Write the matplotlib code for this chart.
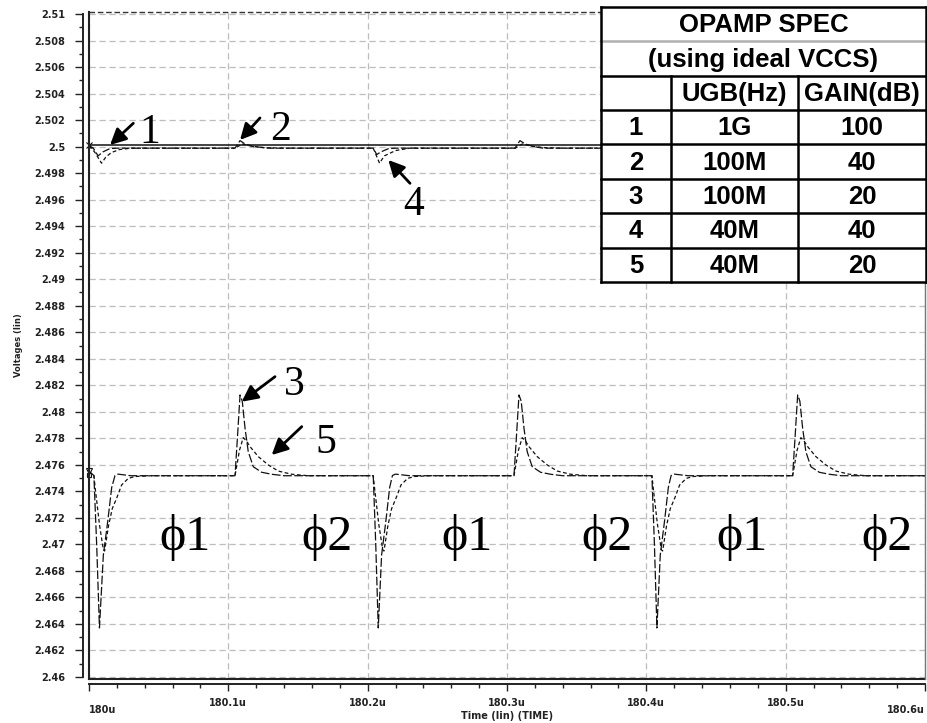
import matplotlib
matplotlib.use("Agg")
import matplotlib.pyplot as plt
from matplotlib.patches import Rectangle
from matplotlib.ticker import MultipleLocator
from matplotlib.transforms import ScaledTranslation

# ---------------- data (time in us, voltage in V) ----------------
# curve 1 : UGB 1G, 100 dB
t_c1 = [180.0, 180.1, 180.2, 180.3, 180.4, 180.5, 180.6]
v_c1 = [2.50012, 2.50012, 2.50012, 2.50012, 2.50012, 2.50012, 2.50012]

# curve 2 : UGB 100M, 40 dB
t_c2 = [180.0, 180.003, 180.0065, 180.010, 180.015, 180.020,
        180.1048, 180.1084, 180.112, 180.118, 180.130,
        180.204, 180.2065, 180.2095, 180.215, 180.220,
        180.3057, 180.3093, 180.313, 180.319, 180.326, 180.6]
v_c2 = [2.50005, 2.4999, 2.4993, 2.4996, 2.49985, 2.49988,
        2.49988, 2.50045, 2.5002, 2.5000, 2.49988,
        2.49988, 2.4994, 2.4996, 2.49985, 2.49988,
        2.49988, 2.50045, 2.5002, 2.5000, 2.49988, 2.49988]

# curve 4 : UGB 40M, 40 dB
t_c4 = [180.0, 180.004, 180.009, 180.012, 180.016, 180.022, 180.030,
        180.1048, 180.110, 180.116, 180.125, 180.140,
        180.204, 180.2085, 180.212, 180.220, 180.230,
        180.306, 180.311, 180.317, 180.326, 180.340, 180.6]
v_c4 = [2.50005, 2.4996, 2.49875, 2.4992, 2.49955, 2.49978, 2.49988,
        2.49988, 2.5002, 2.50005, 2.49992, 2.49988,
        2.49988, 2.49875, 2.4993, 2.4997, 2.49988,
        2.49988, 2.5002, 2.50005, 2.49992, 2.49988, 2.49988]

# curve 3 : UGB 100M, 20 dB
t_c3 = [180.0, 180.0035, 180.0055, 180.0075, 180.0103, 180.0134, 180.0163, 180.0187, 180.0208, 180.030,
        180.1048, 180.1065, 180.1084, 180.1100, 180.1120, 180.1143, 180.1179, 180.1239, 180.1311, 180.140,
        180.2040, 180.2058, 180.2076, 180.2100, 180.2130, 180.2158, 180.2178, 180.2200, 180.230,
        180.3050, 180.3067, 180.3086, 180.3102, 180.3122, 180.3145, 180.3181, 180.3241, 180.3313, 180.340,
        180.4040, 180.4058, 180.4076, 180.4100, 180.4130, 180.4158, 180.4178, 180.4200, 180.430,
        180.5050, 180.5067, 180.5086, 180.5102, 180.5122, 180.5145, 180.5181, 180.5241, 180.5313, 180.540,
        180.6]
v_c3 = [2.4755, 2.4752, 2.4700, 2.4637, 2.4692, 2.4717, 2.4743, 2.4752, 2.4753, 2.47518,
        2.47518, 2.4780, 2.48127, 2.4808, 2.47875, 2.47699, 2.47586, 2.47544, 2.47529, 2.47518,
        2.47518, 2.4700, 2.4637, 2.4692, 2.4717, 2.4743, 2.4752, 2.4753, 2.47518,
        2.47518, 2.4780, 2.48127, 2.4808, 2.47875, 2.47699, 2.47586, 2.47544, 2.47529, 2.47518,
        2.47518, 2.4700, 2.4637, 2.4692, 2.4717, 2.4743, 2.4752, 2.4753, 2.47518,
        2.47518, 2.4780, 2.48127, 2.4808, 2.47875, 2.47699, 2.47586, 2.47544, 2.47529, 2.47518,
        2.47518]

# curve 5 : UGB 40M, 20 dB
t_c5 = [180.0, 180.0035, 180.0045, 180.0075, 180.0103, 180.0112, 180.0140, 180.0167, 180.0199, 180.0234, 180.0282, 180.0330, 180.0450,
        180.1048, 180.1080, 180.1107, 180.1130, 180.1156, 180.1215, 180.1287, 180.1359, 180.1455, 180.1572,
        180.2040, 180.2050, 180.2080, 180.2108, 180.2117, 180.2145, 180.2172, 180.2204, 180.2239, 180.2287, 180.2335, 180.2450,
        180.3050, 180.3082, 180.3109, 180.3132, 180.3158, 180.3217, 180.3289, 180.3361, 180.3457, 180.3574,
        180.4040, 180.4050, 180.4080, 180.4108, 180.4117, 180.4145, 180.4172, 180.4204, 180.4239, 180.4287, 180.4335, 180.4450,
        180.5050, 180.5082, 180.5109, 180.5132, 180.5158, 180.5217, 180.5289, 180.5361, 180.5457, 180.5574,
        180.6]
v_c5 = [2.4755, 2.4752, 2.4742, 2.4715, 2.4696, 2.4695, 2.4714, 2.4727, 2.4735, 2.47448, 2.47498, 2.47512, 2.47518,
        2.47518, 2.4771, 2.47805, 2.4778, 2.47737, 2.47662, 2.47599, 2.47553, 2.47529, 2.47518,
        2.47518, 2.4742, 2.4715, 2.4696, 2.4695, 2.4714, 2.4727, 2.4735, 2.47448, 2.47498, 2.47512, 2.47518,
        2.47518, 2.4771, 2.47805, 2.4778, 2.47737, 2.47662, 2.47599, 2.47553, 2.47529, 2.47518,
        2.47518, 2.4742, 2.4715, 2.4696, 2.4695, 2.4714, 2.4727, 2.4735, 2.47448, 2.47498, 2.47512, 2.47518,
        2.47518, 2.4771, 2.47805, 2.4778, 2.47737, 2.47662, 2.47599, 2.47553, 2.47529, 2.47518,
        2.47518]

# axis ticks
xtick_values = [180.0, 180.1, 180.2, 180.3, 180.4, 180.5, 180.6]
xtick_labels = ["180u", "180.1u", "180.2u", "180.3u", "180.4u", "180.5u", "180.6u"]
ytick_labels = ["2.46", "2.462", "2.464", "2.466", "2.468", "2.47", "2.472", "2.474", "2.476",
                "2.478", "2.48", "2.482", "2.484", "2.486", "2.488", "2.49", "2.492", "2.494",
                "2.496", "2.498", "2.5", "2.502", "2.504", "2.506", "2.508", "2.51"]

# phase labels
phase_labels = ["\u03d51", "\u03d52", "\u03d51", "\u03d52", "\u03d51", "\u03d52"]
phase_t = [180.069, 180.171, 180.271, 180.372, 180.469, 180.573]
phase_v = 2.4696

# curve annotations: label, text position, arrow tail, arrow tip
ann_labels = ["1", "2", "3", "4", "5"]
ann_text_t = [180.0438, 180.1371, 180.1476, 180.2333, 180.1701]
ann_text_v = [2.50027, 2.5005, 2.48127, 2.49484, 2.47689]
ann_tail_t = [180.0318, 180.1227, 180.1335, 180.2304, 180.1527]
ann_tail_v = [2.50176, 2.50216, 2.48265, 2.49723, 2.47888]
ann_tip_t = [180.0151, 180.1084, 180.1096, 180.2148, 180.1311]
ann_tip_v = [2.50012, 2.50050, 2.48076, 2.49899, 2.47674]

# spec table
table_title = "OPAMP SPEC"
table_subtitle = "(using ideal VCCS)"
table_header = ["", "UGB(Hz)", "GAIN(dB)"]
table_ids = ["1", "2", "3", "4", "5"]
table_ugb = ["1G", "100M", "100M", "40M", "40M"]
table_gain = ["100", "40", "20", "40", "20"]

# ---------------- figure ----------------
W, H = 927, 723
fig = plt.figure(figsize=(W / 100, H / 100), dpi=100)
fig.patch.set_facecolor("white")


def px_rect(x0, y0, x1, y1):
    return [x0 / W, 1 - y1 / H, (x1 - x0) / W, (y1 - y0) / H]


SANS = "Liberation Sans"
AXFONT = "DejaVu Sans"
SERIF = ["Liberation Serif", "DejaVu Serif"]

ax = fig.add_axes(px_rect(89, 12, 925, 679))
ax.set_xlim(180.0, 180.6)
ax.set_ylim(2.45985, 2.51015)

ink = "#111111"
ax.plot(t_c1, v_c1, color=ink, lw=1.1, solid_capstyle="butt", zorder=3)
ax.plot(t_c2, v_c2, color=ink, lw=0.9, dashes=(6, 2), zorder=3)
ax.plot(t_c4, v_c4, color=ink, lw=0.9, dashes=(3, 2), zorder=3)
ax.plot(t_c3, v_c3, color=ink, lw=0.9, dashes=(7, 2), zorder=3)
ax.plot(t_c5, v_c5, color=ink, lw=0.9, dashes=(3, 2), zorder=3)

# start markers
ax.plot(t_c3[:1], v_c3[:1], marker="v", ms=5, mfc="none", mec=ink, mew=0.8, ls="none", clip_on=False, zorder=4)
ax.plot(t_c5[:1], [v_c5[0] - 0.0003], marker="s", ms=3.5, mfc="none", mec=ink, mew=0.8, ls="none", clip_on=False, zorder=4)
ax.plot(t_c1[:1], v_c1[:1], marker="x", ms=4, mec=ink, mew=0.8, ls="none", clip_on=False, zorder=4)

# grid
ax.set_xticks(xtick_values, xtick_labels)
ax.set_yticks([float(s) for s in ytick_labels], ytick_labels)
ax.xaxis.set_minor_locator(MultipleLocator(0.02))
ax.yaxis.set_minor_locator(MultipleLocator(0.001))
ax.grid(True, which="major", color="#bdbdbd", lw=0.9, ls=(0, (5, 3)), zorder=1)

# detached axes (spines) + frame
for s in ["top", "right"]:
    ax.spines[s].set_visible(False)
ax.spines["left"].set_position(("outward", 4.3))
ax.spines["bottom"].set_position(("outward", 3.6))
ax.spines["left"].set_bounds(2.46, 2.51)
ax.spines["bottom"].set_bounds(180.0, 180.6)
for s in ["left", "bottom"]:
    ax.spines[s].set_linewidth(1.4)
    ax.spines[s].set_color("#222222")

ax.plot([0, 0], [0, 1], transform=ax.transAxes, color="#222222", lw=1.5, clip_on=False, zorder=5)
ax.plot([0, 1], [0, 0], transform=ax.transAxes, color="#222222", lw=1.5, clip_on=False, zorder=5)
ax.plot([0, 1], [1, 1], transform=ax.transAxes, color="#333333", lw=1.0, dashes=(4, 2), clip_on=False, zorder=5)
ax.plot([1, 1], [0, 1], transform=ax.transAxes, color="#777777", lw=1.0, clip_on=False, zorder=5)

ax.tick_params(axis="y", which="major", direction="out", length=5.8, width=1.0, pad=7, color="#222222")
ax.tick_params(axis="y", which="minor", direction="out", length=2.9, width=1.0, color="#222222")
ax.tick_params(axis="x", which="major", direction="out", length=5.0, width=1.0, pad=5, color="#222222")
ax.tick_params(axis="x", which="minor", direction="out", length=2.9, width=1.0, color="#222222")

for lab in ax.get_yticklabels() + ax.get_xticklabels():
    lab.set_fontfamily(AXFONT)
    lab.set_fontweight("bold")
    lab.set_fontsize(7)
    lab.set_color("#222222")

xl = ax.get_xticklabels()
drop = ScaledTranslation(0, -0.07, fig.dpi_scale_trans)
xl[0].set_ha("left")
xl[0].set_transform(xl[0].get_transform() + drop)
xl[-1].set_ha("right")
xl[-1].set_transform(xl[-1].get_transform() + drop)

ax.set_xlabel("Time (lin) (TIME)", fontfamily=AXFONT, fontweight="bold", fontsize=7, color="#222222")
ax.xaxis.set_label_coords(0.5, -0.0487)
ax.set_ylabel("Voltages (lin)", fontfamily=AXFONT, fontweight="bold", fontsize=6, color="#222222")
ax.yaxis.set_label_coords(-0.079, 0.5)

# phase labels
for lab, t in zip(phase_labels, phase_t):
    ax.text(t, phase_v, lab, fontsize=36, family=SERIF, ha="center", va="baseline", color="black", zorder=6)

# curve annotations
for lab, tx, vx, ta, va_, tp, vp in zip(ann_labels, ann_text_t, ann_text_v, ann_tail_t, ann_tail_v, ann_tip_t, ann_tip_v):
    ax.annotate("", xy=(tp, vp), xytext=(ta, va_),
                arrowprops=dict(arrowstyle="-|>", color="black", lw=2.0, mutation_scale=24,
                                shrinkA=0, shrinkB=0), zorder=6)
    ax.text(tx, vx, lab, fontsize=30, family=SERIF, ha="center", va="baseline", color="black", zorder=6)

# ---------------- spec table ----------------
tax = fig.add_axes(px_rect(601, 7, 926, 282))
tax.set_xlim(0, 325)
tax.set_ylim(8, 0)
tax.axis("off")
tax.add_patch(Rectangle((0, 0), 1, 1, transform=tax.transAxes, facecolor="white", edgecolor="none", zorder=0, clip_on=False))
col_edges = [0, 70, 197, 325]
lw_t = 1.8
for r in range(9):
    c = "#b0b0b0" if r == 1 else "black"
    tax.plot([0, 325], [r, r], color=c, lw=lw_t, clip_on=False, solid_capstyle="projecting")
tax.plot([0, 0], [0, 8], color="black", lw=lw_t, clip_on=False)
tax.plot([325, 325], [0, 8], color="black", lw=lw_t, clip_on=False)
for xc in col_edges[1:3]:
    tax.plot([xc, xc], [2, 8], color="black", lw=lw_t, clip_on=False)

tkw = dict(fontfamily=SANS, fontweight="bold", fontsize=18.5, ha="center", va="center", color="black")
tax.text(162.5, 0.53, table_title, **tkw)
tax.text(162.5, 1.53, table_subtitle, **tkw)
centers = [(col_edges[i] + col_edges[i + 1]) / 2 for i in range(3)]
for j, h in enumerate(table_header):
    tax.text(centers[j], 2.53, h, **tkw)
for i in range(len(table_ids)):
    row = 3 + i + 0.53
    tax.text(centers[0], row, table_ids[i], **tkw)
    tax.text(centers[1], row, table_ugb[i], **tkw)
    tax.text(centers[2], row, table_gain[i], **tkw)

fig.savefig("out.png", dpi=100, facecolor="white")
